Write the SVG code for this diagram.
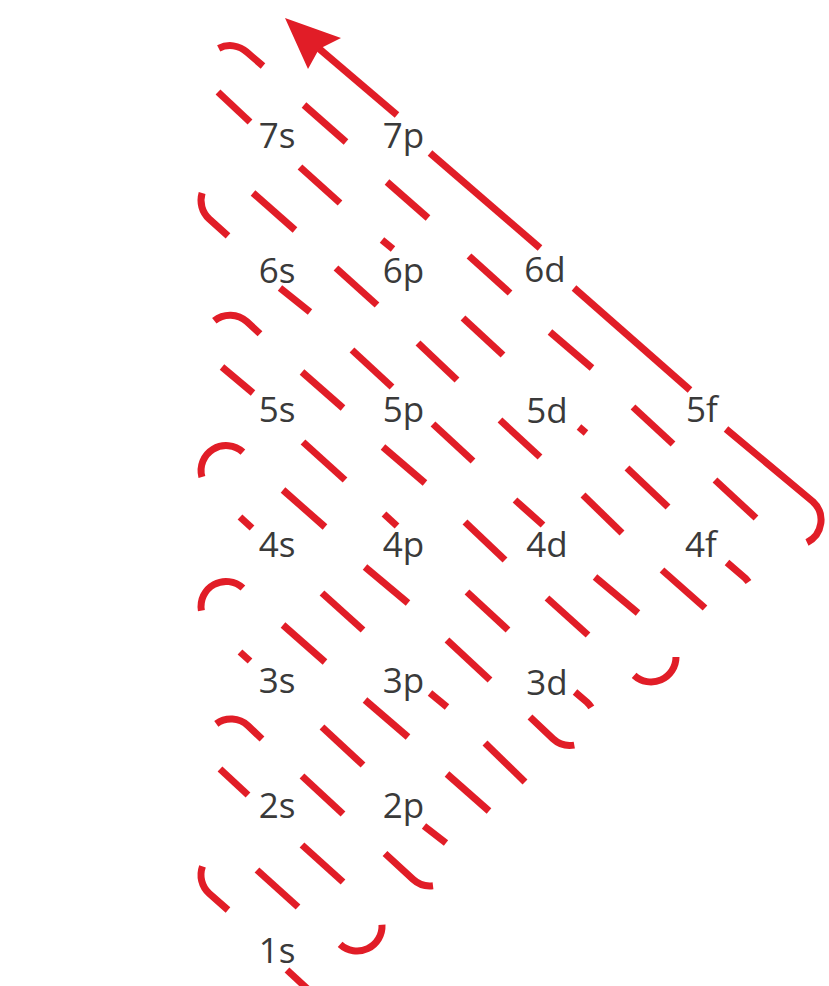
<svg xmlns="http://www.w3.org/2000/svg" width="829" height="986" viewBox="0 0 829 986">
<style>
.ln{fill:none;stroke:#e11d27;stroke-width:7;stroke-linecap:butt;stroke-linejoin:round}
.lbl{font-family:"Open Sans","Liberation Sans",sans-serif;font-size:35px;fill:#3a3a3a;text-anchor:middle}
</style>
<rect width="829" height="986" fill="#ffffff"/>
<g id="connectors">
  <!-- diagonal 1 (1s) and turns -->
  <path class="ln" d="M313 994 L287 970"/>
  <path class="ln" d="M228 910 L209.1 893.4 A25 25 0 0 1 202.5 866.4"/>
  <path class="ln" d="M257 870 L298 907"/>
  <path class="ln" d="M340.1 944.4 A25 25 0 0 0 382 924.7"/>
  <!-- diagonal 2 (2s) -->
  <path class="ln" d="M343 882 L302 845"/>
  <path class="ln" d="M248 795 L220 769"/>
  <path class="ln" d="M216.3 723.8 A25 25 0 0 1 247.9 725.6 L262 739"/>
  <path class="ln" d="M302 776 L343 814"/>
  <path class="ln" d="M385 853.5 L413.1 879.4 A25 25 0 0 0 433 885.8"/>
  <!-- diagonal 3 (2p 3s) -->
  <path class="ln" d="M446 843 L424 826"/>
  <path class="ln" d="M363 765 L322 727"/>
  <path class="ln" d="M250 661 L240 652"/>
  <path class="ln" d="M201.4 610.7 A25 25 0 0 1 242.9 588"/>
  <path class="ln" d="M283 625 L325 662"/>
  <path class="ln" d="M365 700 L408 737"/>
  <path class="ln" d="M447 774 L489 811"/>
  <!-- diagonal 4 (3p 4s) -->
  <path class="ln" d="M525 782 L485 743"/>
  <path class="ln" d="M447 707 L430 693"/>
  <path class="ln" d="M363 630 L322 593"/>
  <path class="ln" d="M252 528 L240 517"/>
  <path class="ln" d="M201.9 477 A25 25 0 0 1 242.9 452.1"/>
  <path class="ln" d="M283 490 L325 527"/>
  <path class="ln" d="M365 567 L408 603"/>
  <path class="ln" d="M447 640 L490 680"/>
  <path class="ln" d="M530 717 L553.1 738.9 A25 25 0 0 0 574.3 745.1"/>
  <!-- diagonal 5 (3d 4p 5s) -->
  <path class="ln" d="M591.3 707.4 A25 25 0 0 0 586.9 702.1 L575 692"/>
  <path class="ln" d="M508 630 L467 592"/>
  <path class="ln" d="M397 526 L384 514"/>
  <path class="ln" d="M345 480 L303 442"/>
  <path class="ln" d="M253 393 L222 367"/>
  <path class="ln" d="M214.3 320.7 A25 25 0 0 1 246.9 321.7 L260 333.8"/>
  <path class="ln" d="M302 372 L343 408"/>
  <path class="ln" d="M383 447 L425 483"/>
  <path class="ln" d="M465 522 L505 560"/>
  <path class="ln" d="M547 598 L588 635"/>
  <path class="ln" d="M634.1 675.4 A25 25 0 0 0 676 657"/>
  <!-- diagonal 6 (4d 5p 6s) -->
  <path class="ln" d="M638 613 L595 577"/>
  <path class="ln" d="M543 525 L515 500"/>
  <path class="ln" d="M473 461 L433 424"/>
  <path class="ln" d="M392 387 L352 350"/>
  <path class="ln" d="M310 312 L280 288"/>
  <path class="ln" d="M228 235.8 L209.1 218.8 A25 25 0 0 1 202.1 193.1"/>
  <path class="ln" d="M253 193 L295 230"/>
  <path class="ln" d="M336 268 L377 305"/>
  <path class="ln" d="M418 343 L457 380"/>
  <path class="ln" d="M500 420 L540 457"/>
  <path class="ln" d="M583 495 L622 533"/>
  <path class="ln" d="M662 570 L705 608"/>
  <!-- diagonal 7 (4f 5d 6p 7s) -->
  <path class="ln" d="M748.5 582 A25 25 0 0 0 744.9 577.9 L727 562.5"/>
  <path class="ln" d="M668 507 L627 468"/>
  <path class="ln" d="M586 433 L579 427"/>
  <path class="ln" d="M503 355 L463 318"/>
  <path class="ln" d="M393 249 L382 240"/>
  <path class="ln" d="M340 203 L300 167"/>
  <path class="ln" d="M250 122 L218 92"/>
  <path class="ln" d="M218.7 48.3 A25 25 0 0 1 246.9 52.2 L263 66"/>
  <path class="ln" d="M304 105 L346 142"/>
  <path class="ln" d="M387 182 L428 218"/>
  <path class="ln" d="M469 256 L510 293"/>
  <path class="ln" d="M550 332 L592 368"/>
  <path class="ln" d="M633 407 L673 444"/>
  <path class="ln" d="M715 480 L756 518"/>
  <!-- diagonal 8 (5f 6d 7p), solid with arrow -->
  <path class="ln" d="M807 542.5 A25 25 0 0 0 812.9 501.6 L726 429"/>
  <path class="ln" d="M690 390 L574 288"/>
  <path class="ln" d="M540 248 L430 153"/>
  <path class="ln" d="M397 115 L316 46"/>
  <polygon points="285,18 341,38 319,49 308,69" fill="#e11d27"/>
</g>
<g id="n7s"><text class="lbl" x="277" y="148">7s</text></g>
<g id="n7p"><text class="lbl" x="403.5" y="148">7p</text></g>
<g id="n6s"><text class="lbl" x="277" y="283">6s</text></g>
<g id="n6p"><text class="lbl" x="403.5" y="283">6p</text></g>
<g id="n6d"><text class="lbl" x="545" y="282">6d</text></g>
<g id="n5s"><text class="lbl" x="277" y="422">5s</text></g>
<g id="n5p"><text class="lbl" x="403.5" y="422">5p</text></g>
<g id="n5d"><text class="lbl" x="547" y="423">5d</text></g>
<g id="n5f"><text class="lbl" x="702" y="422">5f</text></g>
<g id="n4s"><text class="lbl" x="277" y="557">4s</text></g>
<g id="n4p"><text class="lbl" x="403.5" y="557">4p</text></g>
<g id="n4d"><text class="lbl" x="547" y="557">4d</text></g>
<g id="n4f"><text class="lbl" x="701" y="557">4f</text></g>
<g id="n3s"><text class="lbl" x="277" y="693">3s</text></g>
<g id="n3p"><text class="lbl" x="403.5" y="693">3p</text></g>
<g id="n3d"><text class="lbl" x="547" y="695">3d</text></g>
<g id="n2s"><text class="lbl" x="277" y="818">2s</text></g>
<g id="n2p"><text class="lbl" x="403.5" y="818">2p</text></g>
<g id="n1s"><text class="lbl" x="277" y="963">1s</text></g>
</svg>
